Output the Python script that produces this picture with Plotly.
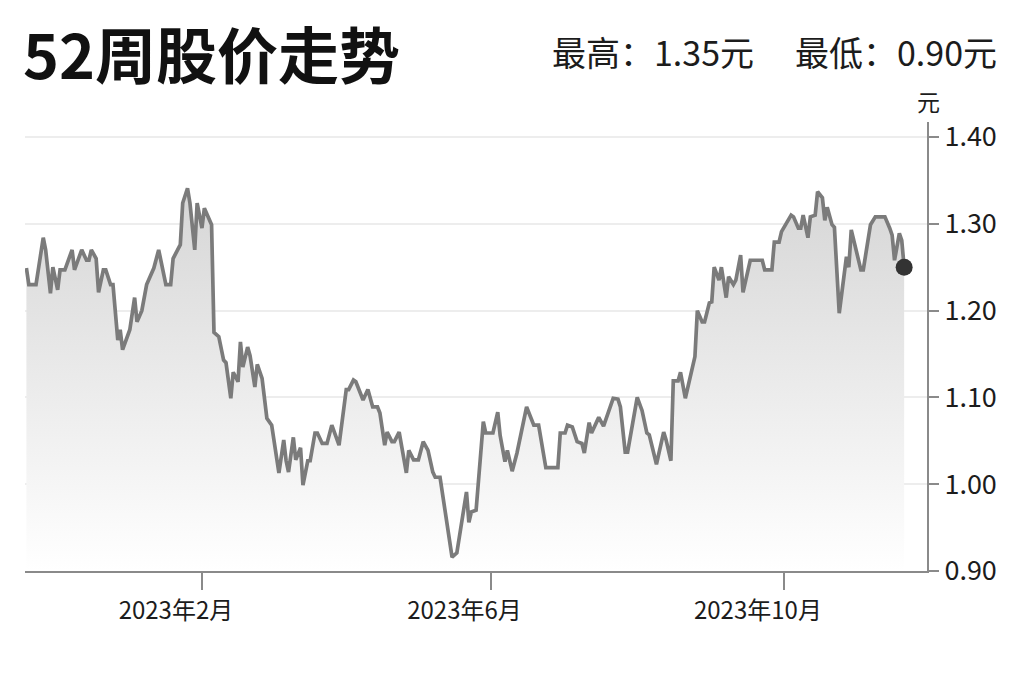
"""52周股价走势 - gray area chart with end-point marker."""

import plotly.graph_objects as go

# price series (date, close in 元)
dates = [
    "2022-11-20", "2022-11-21", "2022-11-24", "2022-11-27", "2022-11-28", "2022-11-30",
    "2022-12-01", "2022-12-03", "2022-12-04", "2022-12-06", "2022-12-09", "2022-12-10",
    "2022-12-13", "2022-12-15", "2022-12-16", "2022-12-17", "2022-12-19", "2022-12-20",
    "2022-12-22", "2022-12-23", "2022-12-25", "2022-12-26", "2022-12-28", "2022-12-29",
    "2022-12-30", "2023-01-02", "2023-01-04", "2023-01-05", "2023-01-07", "2023-01-09",
    "2023-01-12", "2023-01-14", "2023-01-17", "2023-01-19", "2023-01-20", "2023-01-23",
    "2023-01-24", "2023-01-26", "2023-01-27", "2023-01-29", "2023-01-30", "2023-02-01",
    "2023-02-02", "2023-02-05", "2023-02-06", "2023-02-08", "2023-02-10", "2023-02-11",
    "2023-02-13", "2023-02-14", "2023-02-16", "2023-02-17", "2023-02-18", "2023-02-20",
    "2023-02-21", "2023-02-23", "2023-02-24", "2023-02-26", "2023-02-28", "2023-03-02",
    "2023-03-05", "2023-03-07", "2023-03-08", "2023-03-09", "2023-03-11", "2023-03-12",
    "2023-03-14", "2023-03-15", "2023-03-17", "2023-03-18", "2023-03-20", "2023-03-21",
    "2023-03-23", "2023-03-25", "2023-03-27", "2023-03-30", "2023-04-02", "2023-04-03",
    "2023-04-05", "2023-04-06", "2023-04-09", "2023-04-11", "2023-04-13", "2023-04-15",
    "2023-04-16", "2023-04-18", "2023-04-19", "2023-04-21", "2023-04-22", "2023-04-24",
    "2023-04-27", "2023-04-28", "2023-04-30", "2023-05-02", "2023-05-04", "2023-05-06",
    "2023-05-08", "2023-05-09", "2023-05-11", "2023-05-14", "2023-05-16", "2023-05-18",
    "2023-05-22", "2023-05-23", "2023-05-24", "2023-05-26", "2023-05-27", "2023-05-29",
    "2023-05-30", "2023-06-02", "2023-06-04", "2023-06-05", "2023-06-07", "2023-06-08",
    "2023-06-10", "2023-06-12", "2023-06-16", "2023-06-19", "2023-06-21", "2023-06-24",
    "2023-06-29", "2023-06-30", "2023-07-02", "2023-07-03", "2023-07-05", "2023-07-07",
    "2023-07-09", "2023-07-10", "2023-07-12", "2023-07-13", "2023-07-16", "2023-07-18",
    "2023-07-22", "2023-07-24", "2023-07-25", "2023-07-27", "2023-07-28", "2023-07-30",
    "2023-08-01", "2023-08-03", "2023-08-05", "2023-08-06", "2023-08-09", "2023-08-12",
    "2023-08-13", "2023-08-15", "2023-08-16", "2023-08-18", "2023-08-19", "2023-08-21",
    "2023-08-25", "2023-08-26", "2023-08-28", "2023-08-29", "2023-08-31", "2023-09-01",
    "2023-09-02", "2023-09-04", "2023-09-05", "2023-09-07", "2023-09-08", "2023-09-10",
    "2023-09-11", "2023-09-13", "2023-09-14", "2023-09-17", "2023-09-22", "2023-09-23",
    "2023-09-26", "2023-09-27", "2023-09-29", "2023-09-30", "2023-10-04", "2023-10-05",
    "2023-10-07", "2023-10-08", "2023-10-09", "2023-10-11", "2023-10-12", "2023-10-14",
    "2023-10-15", "2023-10-17", "2023-10-18", "2023-10-19", "2023-10-21", "2023-10-22",
    "2023-10-24", "2023-10-27", "2023-10-28", "2023-10-29", "2023-11-02", "2023-11-03",
    "2023-11-06", "2023-11-08", "2023-11-12", "2023-11-14", "2023-11-15", "2023-11-16",
    "2023-11-18", "2023-11-19", "2023-11-20",
]
prices = [
    1.249, 1.230, 1.230, 1.284, 1.270, 1.220,
    1.250, 1.224, 1.247, 1.247, 1.270, 1.247,
    1.270, 1.258, 1.258, 1.270, 1.260, 1.221,
    1.247, 1.247, 1.230, 1.230, 1.166, 1.178,
    1.155, 1.178, 1.215, 1.187, 1.200, 1.230,
    1.249, 1.270, 1.230, 1.230, 1.260, 1.276,
    1.324, 1.341, 1.324, 1.270, 1.324, 1.295,
    1.318, 1.299, 1.175, 1.170, 1.143, 1.140,
    1.099, 1.129, 1.118, 1.164, 1.135, 1.158,
    1.148, 1.112, 1.138, 1.122, 1.076, 1.068,
    1.013, 1.051, 1.027, 1.014, 1.054, 1.028,
    1.042, 0.999, 1.027, 1.027, 1.059, 1.059,
    1.047, 1.047, 1.068, 1.045, 1.109, 1.109,
    1.120, 1.118, 1.097, 1.109, 1.089, 1.089,
    1.082, 1.045, 1.060, 1.049, 1.049, 1.060,
    1.013, 1.039, 1.028, 1.028, 1.049, 1.039,
    1.014, 1.008, 1.008, 0.951, 0.916, 0.921,
    0.991, 0.956, 0.968, 0.970, 1.008, 1.072,
    1.059, 1.059, 1.083, 1.056, 1.026, 1.039,
    1.015, 1.036, 1.089, 1.068, 1.068, 1.019,
    1.019, 1.059, 1.059, 1.068, 1.066, 1.049,
    1.047, 1.036, 1.071, 1.059, 1.077, 1.067,
    1.099, 1.098, 1.089, 1.037, 1.037, 1.066,
    1.100, 1.085, 1.059, 1.057, 1.023, 1.060,
    1.051, 1.027, 1.119, 1.119, 1.129, 1.099,
    1.147, 1.200, 1.187, 1.187, 1.209, 1.210,
    1.250, 1.235, 1.250, 1.215, 1.239, 1.230,
    1.235, 1.264, 1.221, 1.258, 1.258, 1.247,
    1.247, 1.279, 1.279, 1.291, 1.310, 1.308,
    1.295, 1.295, 1.310, 1.284, 1.308, 1.310,
    1.337, 1.330, 1.304, 1.319, 1.299, 1.296,
    1.197, 1.262, 1.250, 1.293, 1.247, 1.247,
    1.299, 1.308, 1.308, 1.295, 1.287, 1.258,
    1.289, 1.281, 1.250,
]

x_tick_vals = ["2023-02-01", "2023-06-01", "2023-10-01"]
x_tick_text = ["2023年2月", "2023年6月", "2023年10月"]
y_tick_vals = [0.90, 1.00, 1.10, 1.20, 1.30, 1.40]

title_text = "52周股价走势"
high_text = "最高：1.35元"
low_text = "最低：0.90元"
unit_text = "元"

FONT = "Noto Sans CJK SC"
INK = "#1c1c1c"
AXIS = "#8a8a8a"

fig = go.Figure()

# area + line
fig.add_trace(go.Scatter(
    x=dates,
    y=prices,
    mode="lines",
    line=dict(color="#7b7b7b", width=3.7),
    fill="tozeroy",
    fillgradient=dict(
        type="vertical",
        start=0.90,
        stop=1.34,
        colorscale=[[0, "rgb(255,255,255)"], [1, "rgb(214,214,214)"]],
    ),
    hoverinfo="skip",
    showlegend=False,
))

# latest price dot
fig.add_trace(go.Scatter(
    x=[dates[-1]],
    y=[prices[-1]],
    mode="markers",
    marker=dict(color="#333333", size=17),
    hoverinfo="skip",
    showlegend=False,
))

fig.update_xaxes(
    type="date",
    range=["2022-11-19 10:00", "2023-11-29 12:00"],
    tickvals=x_tick_vals,
    ticktext=x_tick_text,
    ticks="outside",
    ticklen=17,
    tickwidth=1.5,
    tickcolor=AXIS,
    ticklabelshift=-26,
    ticklabelstandoff=0,
    tickfont=dict(family=FONT, size=24, color=INK),
    showline=True,
    linecolor=AXIS,
    linewidth=2,
    showgrid=False,
    zeroline=False,
)

fig.update_yaxes(
    side="right",
    range=[0.90, 1.4173],
    tickvals=y_tick_vals,
    tickformat=".2f",
    ticks="outside",
    ticklen=10,
    tickwidth=1.5,
    tickcolor=AXIS,
    ticklabelstandoff=0,
    tickfont=dict(family=FONT, size=27, color=INK),
    showline=True,
    linecolor=AXIS,
    linewidth=2,
    showgrid=True,
    gridcolor="#ededed",
    gridwidth=2,
    zeroline=False,
)

fig.add_annotation(
    text=title_text, xref="paper", yref="paper",
    x=-0.004, y=1.154, xanchor="left", yanchor="middle",
    showarrow=False,
    font=dict(family=FONT, size=61, color="#111111", weight=700),
)
fig.add_annotation(
    text=high_text, xref="paper", yref="paper",
    x=0.810, y=1.158, xanchor="right", yanchor="middle",
    showarrow=False,
    font=dict(family=FONT, size=34, color=INK),
)
fig.add_annotation(
    text=low_text, xref="paper", yref="paper",
    x=1.080, y=1.158, xanchor="right", yanchor="middle",
    showarrow=False,
    font=dict(family=FONT, size=34, color=INK),
)
fig.add_annotation(
    text=unit_text, xref="paper", yref="paper",
    x=1.002, y=1.047, xanchor="center", yanchor="middle",
    showarrow=False,
    font=dict(family=FONT, size=23, color=INK),
)

# page body has an 8px margin, so the figure is sized to fit inside the window
fig.update_layout(
    width=1008,
    height=666,
    margin=dict(l=17, r=89, t=114, b=103),
    paper_bgcolor="white",
    plot_bgcolor="white",
    showlegend=False,
)

fig.write_html("out.html")
